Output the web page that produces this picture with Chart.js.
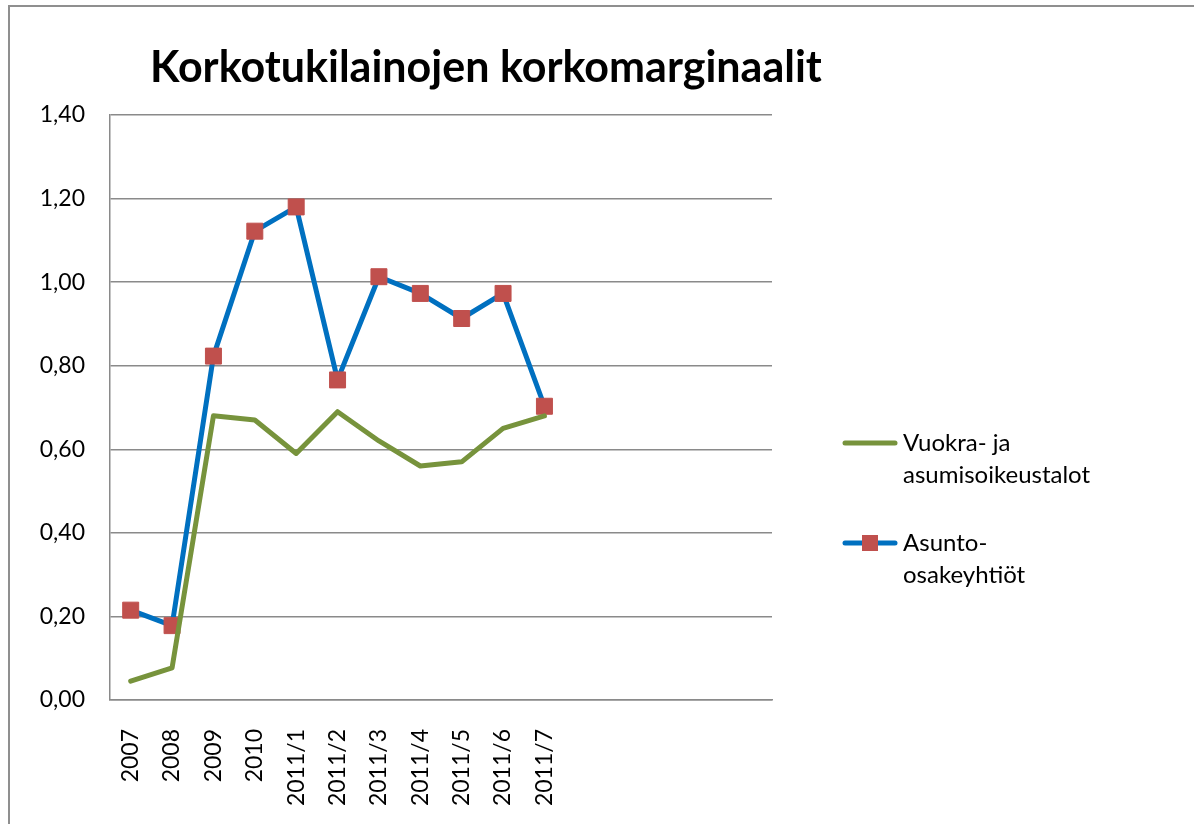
<!DOCTYPE html>
<html>
<head>
<meta charset="utf-8">
<script src="https://cdn.jsdelivr.net/npm/chart.js@4/dist/chart.umd.min.js"></script>
<style>
    html, body { margin: 0; padding: 0; background: #ffffff; }
    #wrap { width: 1194px; height: 824px; position: relative; }
</style>
</head>
<body>
<div id="wrap"><canvas id="marginChart" width="1194" height="824"></canvas></div>
<script>
const chartTitle = "Korkotukilainojen korkomarginaalit";

// category axis runs on past the data, as in the original sheet
const categories = ["2007", "2008", "2009", "2010", "2011/1", "2011/2", "2011/3",
    "2011/4", "2011/5", "2011/6", "2011/7", "", "", "", "", ""];

const rentalLabel = ["Vuokra- ja", "asumisoikeustalot"];
const rentalValues = [0.045, 0.077, 0.68, 0.67, 0.59, 0.69, 0.62, 0.56, 0.57, 0.65, 0.68];

const housingLabel = ["Asunto-", "osakeyhtiöt"];
const housingValues = [0.215, 0.178, 0.823, 1.122, 1.18, 0.766, 1.013, 0.973, 0.913, 0.973, 0.703];

const yTicks = [0, 0.2, 0.4, 0.6, 0.8, 1.0, 1.2, 1.4];

const FONT = "Lato, 'Open Sans', sans-serif";
const GREEN = "#77933C";
const BLUE = "#0070C0";
const MARKER = "#C0504D";
const GRID = "#8a8a8a";

// frame + title + legend drawn by hand (legend entries wrap onto two lines)
const decorations = {
    id: "decorations",
    beforeDraw(chart) {
        const ctx = chart.ctx;
        ctx.save();
        ctx.strokeStyle = "#8f8f8f";
        ctx.lineWidth = 2;
        ctx.beginPath();
        ctx.moveTo(9, chart.height);
        ctx.lineTo(9, 6);
        ctx.lineTo(chart.width, 6);
        ctx.stroke();
        ctx.restore();
    },
    afterDraw(chart) {
        const ctx = chart.ctx;
        ctx.save();
        ctx.fillStyle = "#000000";
        ctx.font = "bold 43px " + FONT;
        ctx.textBaseline = "alphabetic";
        ctx.textAlign = "left";
        ctx.fillText(chartTitle, 150, 82);

        const rows = [443, 543];
        chart.data.datasets.forEach(function (ds, i) {
            const y = rows[i];
            ctx.strokeStyle = ds.borderColor;
            ctx.lineWidth = 5;
            ctx.lineCap = "round";
            ctx.beginPath();
            ctx.moveTo(845, y);
            ctx.lineTo(895, y);
            ctx.stroke();
            if (ds.pointRadius > 0) {
                ctx.fillStyle = ds.pointBackgroundColor;
                ctx.fillRect(862, y - 8, 16, 16);
            }
            ctx.fillStyle = "#000000";
            ctx.font = "24px " + FONT;
            ctx.textBaseline = "middle";
            ds.legendLines.forEach(function (line, j) {
                ctx.fillText(line, 903, y + j * 32);
            });
        });
        ctx.restore();
    }
};

new Chart(document.getElementById("marginChart").getContext("2d"), {
    type: "line",
    data: {
        labels: categories,
        datasets: [
            {
                label: rentalLabel.join(" "),
                legendLines: rentalLabel,
                data: rentalValues,
                borderColor: GREEN,
                backgroundColor: GREEN,
                borderWidth: 5,
                pointRadius: 0,
                tension: 0,
                borderJoinStyle: "round",
                borderCapStyle: "round",
            },
            {
                label: housingLabel.join(" "),
                legendLines: housingLabel,
                data: housingValues,
                borderColor: BLUE,
                backgroundColor: BLUE,
                borderWidth: 5,
                pointStyle: "rect",
                pointRadius: 11.3,
                pointBackgroundColor: MARKER,
                pointBorderColor: MARKER,
                pointBorderWidth: 1,
                tension: 0,
                borderJoinStyle: "round",
                borderCapStyle: "round",
            },
        ],
    },
    options: {
        responsive: false,
        animation: false,
        layout: {
            padding: { top: 115, left: 0, right: 422, bottom: 0 }
        },
        plugins: {
            legend: { display: false },
            title: { display: false },
            tooltip: { enabled: false },
        },
        scales: {
            x: {
                offset: true,
                grid: { display: false, drawTicks: false, offset: true },
                border: { display: true, color: GRID, width: 1.5 },
                afterFit: function (scale) { scale.height = 124; },
                ticks: {
                    autoSkip: false,
                    maxRotation: 90,
                    minRotation: 90,
                    padding: 29,
                    color: "#000000",
                    font: { family: FONT, size: 23 },
                },
            },
            y: {
                min: 0,
                max: 1.4,
                afterFit: function (scale) { scale.width = 110; },
                afterBuildTicks: function (scale) {
                    scale.ticks = yTicks.map((v) => ({ value: v }));
                },
                grid: { color: GRID, lineWidth: 1.5, drawTicks: false },
                border: { display: true, color: GRID, width: 1.5 },
                ticks: {
                    padding: 25,
                    color: "#000000",
                    font: { family: FONT, size: 23 },
                    callback: function (value) {
                        return value.toFixed(2).replace(".", ",");
                    }
                },
            },
        },
    },
    plugins: [decorations],
});
</script>
</body>
</html>
